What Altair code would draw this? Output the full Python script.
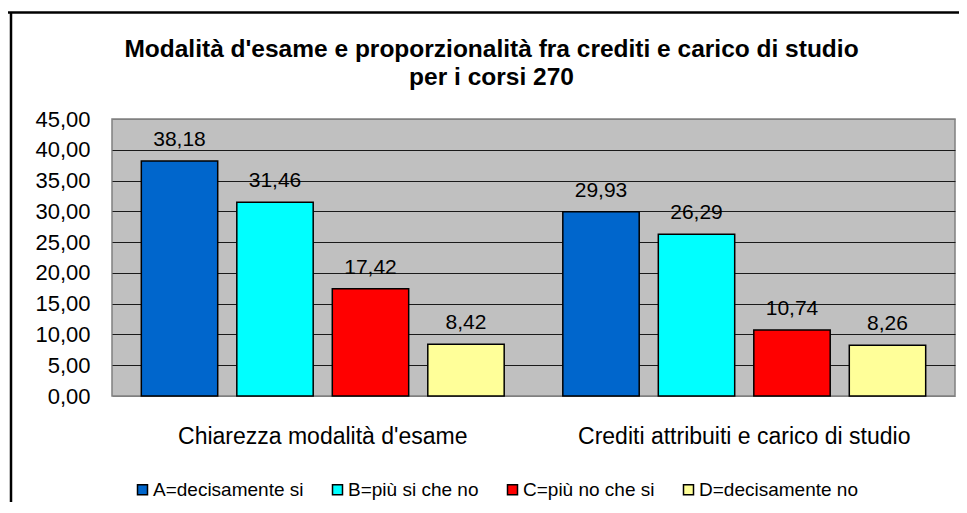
import altair as alt
import pandas as pd

categories = ["Chiarezza modalità  d'esame", "Crediti attribuiti  e carico di studio"]
series = ["A=decisamente si", "B=più si che no", "C=più no che si", "D=decisamente no"]
colors = ["#0066CC", "#00FFFF", "#FF0000", "#FFFF99"]
values_cat1 = [38.18, 31.46, 17.42, 8.42]
values_cat2 = [29.93, 26.29, 10.74, 8.26]
y_ticks = [0, 5, 10, 15, 20, 25, 30, 35, 40, 45]
title_lines = ["Modalità d'esame e proporzionalità fra crediti e carico di studio",
               "per i corsi 270"]

rows = []
for cat, vals in zip(categories, [values_cat1, values_cat2]):
    for s, v in zip(series, vals):
        rows.append({"categoria": cat, "serie": s, "valore": v})
df = pd.DataFrame(rows)

FONT = "Liberation Sans"

y_scale = alt.Scale(domain=[0, 45], nice=False)
y_axis = alt.Axis(title=None, values=y_ticks, grid=True, ticks=False, tickSize=0,
                  domain=False, labelFont=FONT, labelFontSize=22, labelOverlap=False,
                  labelBound=False, labelFlush=False,
                  gridColor={"condition": {"test": "datum.value == 0 || datum.value == 45",
                                           "value": "#808080"},
                             "value": "#1a1a1a"},
                  gridOpacity=1, gridWidth=1,
                  labelColor="#000000", labelPadding=22,
                  labelExpr="replace(format(datum.value, '.2f'), '.', ',')")

x_axis = alt.Axis(title=None, labelAngle=0, ticks=False, tickSize=0, domain=False,
                  grid=False,
                  labelFont=FONT, labelFontSize=23, labelColor="#000000",
                  labelPadding=29, labelLimit=600)
x_scale = alt.Scale(paddingInner=0, paddingOuter=0)
xoff_scale = alt.Scale(paddingInner=0.2, paddingOuter=0.307)

base = alt.Chart(df)

bars = base.mark_bar(stroke="black", strokeWidth=1.5).encode(
    x=alt.X("categoria:N", sort=categories, scale=x_scale, axis=x_axis),
    xOffset=alt.XOffset("serie:N", sort=series, scale=xoff_scale),
    y=alt.Y("valore:Q", scale=y_scale, axis=y_axis),
    color=alt.Color("serie:N", sort=series,
                    scale=alt.Scale(domain=series, range=colors),
                    legend=alt.Legend(title=None, orient="none", legendX=21, legendY=361,
                                      direction="horizontal", symbolType="square",
                                      symbolSize=100, symbolStrokeColor="black",
                                      symbolStrokeWidth=1.5, symbolOpacity=1,
                                      labelFont=FONT, labelFontSize=19, labelColor="#000000",
                                      labelOffset=1, columnPadding=24, padding=0)),
)

labels = base.mark_text(font=FONT, fontSize=21, color="#000000", baseline="alphabetic",
                        dy=-15).transform_calculate(
    lab="replace(format(datum.valore, '.2f'), '.', ',')"
).encode(
    x=alt.X("categoria:N", sort=categories, scale=x_scale, axis=x_axis),
    xOffset=alt.XOffset("serie:N", sort=series, scale=xoff_scale),
    y=alt.Y("valore:Q", scale=y_scale, axis=y_axis),
    text="lab:N",
)

one = alt.Data(values=[{"k": 1}])
frame_top = alt.Chart(one).mark_rule(color="black", strokeWidth=2.5).encode(
    x=alt.value(-104), x2=alt.value(860), y=alt.value(-106.5))
frame_left = alt.Chart(one).mark_rule(color="black", strokeWidth=2.5).encode(
    x=alt.value(-101), y=alt.value(-107), y2=alt.value(390))

chart = alt.layer(bars, labels, frame_top, frame_left).properties(
    width=843,
    height=277,
    padding={"left": 104, "top": 111, "right": 4, "bottom": 106},
    autosize=alt.AutoSizeParams(type="none"),
    background="white",
    title=alt.TitleParams(text=title_lines, font=FONT, fontSize=24.5, fontWeight="bold",
                          color="#000000", anchor="middle", dx=-42, dy=99, lineHeight=28,
                          baseline="alphabetic", offset=0),
).configure_view(
    fill="#C0C0C0", stroke="#808080", strokeWidth=1.5
).configure_axisY(
    labelOverlap=False
)

chart.save("out.html", embed_options={"renderer": "svg", "actions": False})
